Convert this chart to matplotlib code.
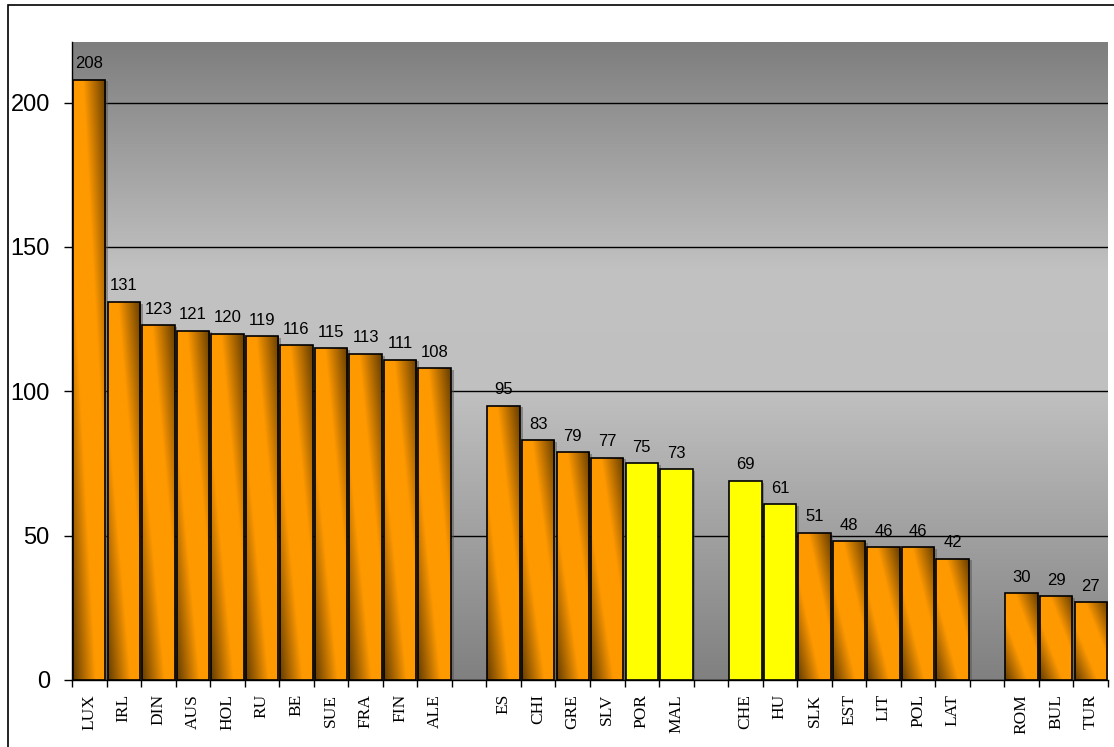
import numpy as np
import matplotlib
matplotlib.use('Agg')
import matplotlib.pyplot as plt
from matplotlib.patches import Rectangle
from matplotlib.colors import to_rgb

# Dados
paises = ['LUX', 'IRL', 'DIN', 'AUS', 'HOL', 'RU', 'BE', 'SUE', 'FRA', 'FIN', 'ALE', '',
          'ES', 'CHI', 'GRE', 'SLV', 'POR', 'MAL', '',
          'CHE', 'HU', 'SLK', 'EST', 'LIT', 'POL', 'LAT', '',
          'ROM', 'BUL', 'TUR']
valores = [208, 131, 123, 121, 120, 119, 116, 115, 113, 111, 108, np.nan,
           95, 83, 79, 77, 75, 73, np.nan,
           69, 61, 51, 48, 46, 46, 42, np.nan,
           30, 29, 27]
destaque = ['POR', 'MAL', 'CHE', 'HU']

W, H = 1114, 747
fig = plt.figure(figsize=(W/100, H/100), dpi=100)
fig.patch.set_facecolor('white')

# moldura externa
fig.add_artist(Rectangle((8/W, -0.05), 1.2, 1 - 5/H + 0.05, transform=fig.transFigure,
                         fill=False, edgecolor='black', lw=1.2))

ax = fig.add_axes([72/W, (H-680)/H, (1108-72)/W, (680-42)/H])
ymax = 221
n = len(paises)
ax.set_xlim(0, n)
ax.set_ylim(0, ymax)

# fundo em degrade (v = 0 topo, 1 base)
v = np.linspace(0, 1, 256)
g = np.interp(v, [0, 0.36, 0.55, 1], [126, 194, 192, 128]) / 255
grad = np.repeat(g[:, None, None], 3, axis=2)
ax.imshow(grad, extent=[0, n, 0, ymax], aspect='auto', origin='upper', zorder=0)

# gradiente das barras
laranja = np.array(to_rgb('#FF9900'))
escuro = np.array([0.40, 0.24, 0.0])
uu = np.linspace(0, 1, 40)[None, :]
vv = np.linspace(1, 0, 200)[:, None]
s = np.clip((np.abs(uu + vv - 1.0) - 0.3) / 0.7, 0, 1)
img = laranja * (1 - s[..., None]) + escuro * s[..., None]

larg = 0.94
for i, (p, val) in enumerate(zip(paises, valores)):
    if np.isnan(val):
        continue
    x0 = i + (1 - larg) / 2
    # sombra
    ax.add_patch(Rectangle((x0 + 0.08, 0), larg, val - 0.6, facecolor='#555555', alpha=0.5,
                           edgecolor='none', zorder=2))
    if p in destaque:
        ax.add_patch(Rectangle((x0, 0), larg, val, facecolor='#FFFF00',
                               edgecolor='black', lw=1.2, zorder=3))
    else:
        rect = Rectangle((x0, 0), larg, val, facecolor='none', edgecolor='black',
                         lw=1.2, zorder=4)
        ax.add_patch(rect)
        im = ax.imshow(img, extent=[x0, x0 + larg, 0, val], aspect='auto', zorder=3)
        im.set_clip_path(rect)
    ax.annotate(f'{int(val)}', (i + 0.5, val), xytext=(0, 6), textcoords='offset points',
                ha='center', va='bottom', fontsize=12, family='Liberation Sans',
                color='black', zorder=5)

ax.set_yticks([0, 50, 100, 150, 200])
ax.yaxis.grid(True, color='black', lw=1)
for gl in ax.yaxis.get_gridlines():
    gl.set_zorder(1)
ax.tick_params(axis='y', labelsize=17, length=6, width=1, direction='out', pad=10)
for lb in ax.get_yticklabels():
    lb.set_family('Liberation Sans')

ax.set_xticks(np.arange(0, n + 1))
ax.set_xticklabels([])
ax.tick_params(axis='x', length=5, width=1, direction='out')
ax.set_xticks(np.arange(n) + 0.5, minor=True)
ax.set_xticklabels(paises, minor=True, rotation=90, fontsize=12.5, family='Liberation Serif')
ax.tick_params(axis='x', which='minor', length=0, pad=10)

for sp in ['top', 'right']:
    ax.spines[sp].set_visible(False)
ax.spines['left'].set_linewidth(1)
ax.spines['bottom'].set_linewidth(1)

fig.savefig('out.png', dpi=100)
